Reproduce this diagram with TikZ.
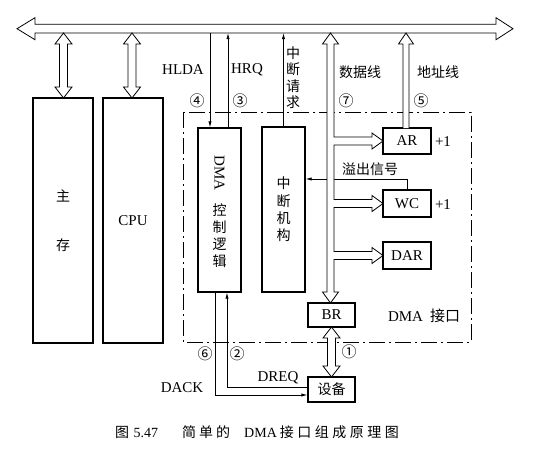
\documentclass[tikz,border=0pt]{standalone}
\usepackage{fontspec}
\setmainfont{Liberation Serif}
\newfontfamily\cjk{Noto Sans CJK SC}
\usetikzlibrary{arrows.meta}
\newcommand\dvarrow[3]{\draw[hollow] (#1,#2) -- (#1+8.5,#2+11) -- (#1+4,#2+11) -- (#1+4,#3-11) -- (#1+8.5,#3-11) -- (#1,#3) -- (#1-8.5,#3-11) -- (#1-4,#3-11) -- (#1-4,#2+11) -- (#1-8.5,#2+11) -- cycle;}
\tikzset{
  box/.style={draw, line width=1.2pt, inner sep=0pt},
  hollow/.style={draw, line width=0.8pt, fill=white, line join=miter},
  sig/.style={draw, line width=0.7pt, -{Latex[length=6pt,width=3.2pt]}},
  lat/.style={font=\fontsize{15}{17}\selectfont, inner sep=0pt},
  zh/.style={font=\cjk\fontsize{14}{17}\selectfont, inner sep=0pt},
  circ/.style={font=\cjk\fontsize{15}{15}\selectfont, inner sep=0pt},
  dashdot/.style={line width=0.8pt, dash pattern=on 16pt off 4pt on 2pt off 4pt}
}
\begin{document}
\begin{tikzpicture}[x=1pt,y=-1pt]
\useasboundingbox (0,0) rectangle (537,451);
% DMA interface boundary
\draw[dashdot] (183,112) rectangle (471,342);
% top system bus
\draw[hollow] (17,28.7) -- (35,17.7) -- (35,24.3) -- (496,24.3) -- (496,17.7) -- (513,28.7) -- (496,39.7) -- (496,33) -- (35,33) -- (35,39.7) -- cycle;
% boxes
\node[box, minimum width=60pt, minimum height=245pt, align=center, font=\cjk\fontsize{14}{49}\selectfont] (mem) at (63,220.5) {主\\存};
\node[box, minimum width=60pt, minimum height=245pt, font=\fontsize{15}{17}\selectfont] (cpu) at (133,220.5) {CPU};
\node[box, minimum width=43pt, minimum height=164pt] (dmac) at (219.5,210) {};
\node[lat, rotate=-90] (dmat) at (219.5,173) {DMA};
\node[zh, align=center] (ctl) at (219.5,236) {控\\制\\逻\\辑};
\node[box, minimum width=43pt, minimum height=165pt, align=center, font=\cjk\fontsize{14}{17.3}\selectfont] (intr) at (283.5,209.5) {中\\断\\机\\构};
\node[box, minimum width=48pt, minimum height=26pt, font=\fontsize{15}{17}\selectfont] (ar) at (407,141) {AR};
\node[box, minimum width=48pt, minimum height=27pt, font=\fontsize{15}{17}\selectfont] (wc) at (407,203.5) {WC};
\node[box, minimum width=48pt, minimum height=27pt, font=\fontsize{15}{17}\selectfont] (dar) at (407,255.5) {DAR};
\node[box, minimum width=47pt, minimum height=24pt, font=\fontsize{15}{17}\selectfont] (br) at (331.5,315) {BR};
\node[box, minimum width=47pt, minimum height=25pt, font=\cjk\fontsize{14}{17}\selectfont] (dev) at (331.5,389.5) {设备};
% hollow double arrows
\dvarrow{63.5}{33}{98}
\dvarrow{132}{33}{98}
\dvarrow{331.5}{327}{377}
% overflow signal (drawn before data bus)
\coordinate (ovf) at (407,179);
\draw[sig] (wc.north) -- (ovf) -- (ovf -| intr.east);
% data bus
\draw[hollow] (330.5,33) -- (338.5,44) -- (334,44) -- (334,137) -- (372,137) -- (372,133) -- (383,141) -- (372,149) -- (372,145) -- (334,145)
  -- (334,199.5) -- (372,199.5) -- (372,195.5) -- (383,203.5) -- (372,211.5) -- (372,207.5) -- (334,207.5)
  -- (334,251.5) -- (372,251.5) -- (372,247.5) -- (383,255.5) -- (372,263.5) -- (372,259.5) -- (334,259.5)
  -- (334,292) -- (338.5,292) -- (330.5,303) -- (322.5,292) -- (327,292) -- (327,44) -- (322.5,44) -- cycle;
% address bus
\draw[hollow] (403,128) -- (403,44) -- (398.5,44) -- (406,33) -- (413.5,44) -- (409,44) -- (409,128);
% signal lines
\coordinate (hlda) at (210,33);
\coordinate (hrq) at (228,33);
\coordinate (irq) at (283.5,33);
\draw[sig] (hlda) -- (hlda |- dmac.north);
\draw[sig] (hrq |- dmac.north) -- (hrq);
\draw[sig] (intr.north) -- (irq);
\coordinate (dreq) at (227,387);
\coordinate (dack) at (215,395);
\draw[sig] (dev.west |- dreq) -- (dreq) -- (dreq |- dmac.south);
\draw[sig] (dack |- dmac.south) -- (dack) -- (dack -| dev.west);
% labels
\node[lat] (lhlda) at (183,70) {HLDA};
\node[lat] (lhrq) at (247,70) {HRQ};
\node[zh, align=center, font=\cjk\fontsize{14}{16.5}\selectfont] (lirq) at (293,77.5) {中\\断\\请\\求};
\node[zh] (ldata) at (360,72) {数据线};
\node[zh] (laddr) at (438,72) {地址线};
\node[circ] (c4) at (197,101) {④};
\node[circ] (c3) at (240,101) {③};
\node[circ] (c7) at (346,101) {⑦};
\node[circ] (c5) at (421,101) {⑤};
\node[zh] (lovf) at (370,169) {溢出信号};
\node[lat] (p1) at (443,142) {+1};
\node[lat] (p2) at (443,205) {+1};
\node[lat] (lif) at (424,316) {DMA\hspace{7pt}{\cjk 接口}};
\node[circ] (c6) at (205,354) {⑥};
\node[circ] (c2) at (237,354) {②};
\node[circ] (c1) at (349,352) {①};
\node[lat] (ldack) at (182,388) {DACK};
\node[lat] (ldreq) at (278,378) {DREQ};
\node[anchor=west, inner sep=0pt, font=\fontsize{14}{16}\selectfont] (cap) at (115,432) {{\cjk 图}\hspace{4.5pt}5.47\hspace{24pt}{\cjk 简\hspace{3pt}单\hspace{3pt}的}\hspace{14pt}DMA\hspace{3pt}{\cjk 接\hspace{3.5pt}口\hspace{3.5pt}组\hspace{3.5pt}成\hspace{3.5pt}原\hspace{3.5pt}理\hspace{3.5pt}图}};
\end{tikzpicture}
\end{document}
